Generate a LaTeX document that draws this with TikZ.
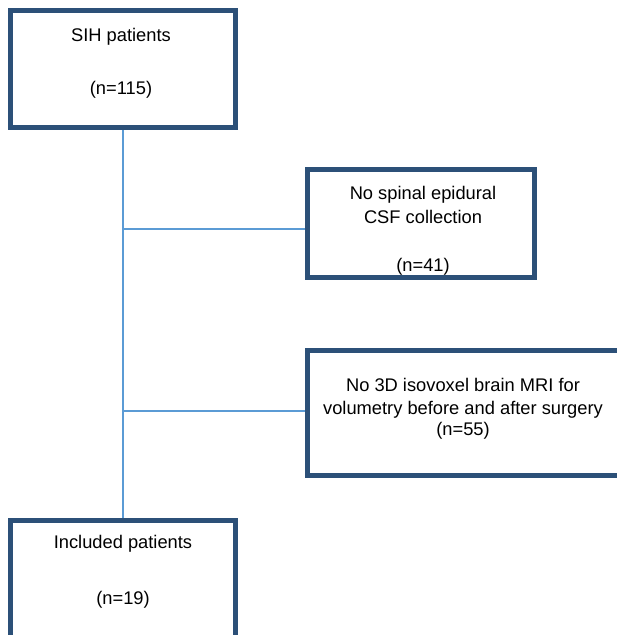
\documentclass[tikz,border=0pt]{standalone}
\usepackage{fontspec}
\setmainfont{Liberation Sans}
\usetikzlibrary{backgrounds}
\definecolor{boxblue}{RGB}{44,80,120}
\definecolor{lineblue}{RGB}{91,155,213}
\begin{document}
\begin{tikzpicture}[x=1pt,y=-1pt,
  flowbox/.style={draw=boxblue,line width=5pt,fill=white,rectangle,inner sep=0pt},
  conn/.style={draw=lineblue,line width=2pt},
  txt/.style={anchor=base,inner sep=0pt,font=\fontsize{18.3}{22}\selectfont}]
\useasboundingbox (0,0) rectangle (617,635);
\clip (0,0) rectangle (617,635);
\coordinate (j1) at (122.7,228.7);
\coordinate (j2) at (122.7,410.5);
% boxes
\node[flowbox,minimum width=225pt,minimum height=116.5pt] (b1) at (123,68.75) {};
\node[flowbox,minimum width=226.5pt,minimum height=108pt] (b2) at (420.75,223.5) {};
\node[flowbox,minimum width=320pt,minimum height=125pt] (b3) at (467.5,413) {};
\node[flowbox,minimum width=225pt,minimum height=150pt] (b4) at (123,595.5) {};
% connectors
\begin{scope}[on background layer]
\draw[conn] (b1.south -| j1) -- (b4.north -| j1);
\draw[conn] (j1) -- (b2.west |- j1);
\draw[conn] (j2) -- (b3.west |- j2);
\end{scope}
% texts
\node[txt] (t1a) at (121,41) {SIH patients};
\node[txt] (t1b) at (121,94) {(n=115)};
\node[txt] (t2a) at (423,199.3) {No spinal epidural};
\node[txt] (t2b) at (423,223.3) {CSF collection};
\node[txt] (t2c) at (423,271.7) {(n=41)};
\node[txt] (t3a) at (463,391.7) {No 3D isovoxel brain MRI for};
\node[txt] (t3b) at (463,414) {volumetry before and after surgery};
\node[txt] (t3c) at (463,435) {(n=55)};
\node[txt] (t4a) at (123,548.3) {Included patients};
\node[txt] (t4b) at (123,604) {(n=19)};
\end{tikzpicture}
\end{document}
